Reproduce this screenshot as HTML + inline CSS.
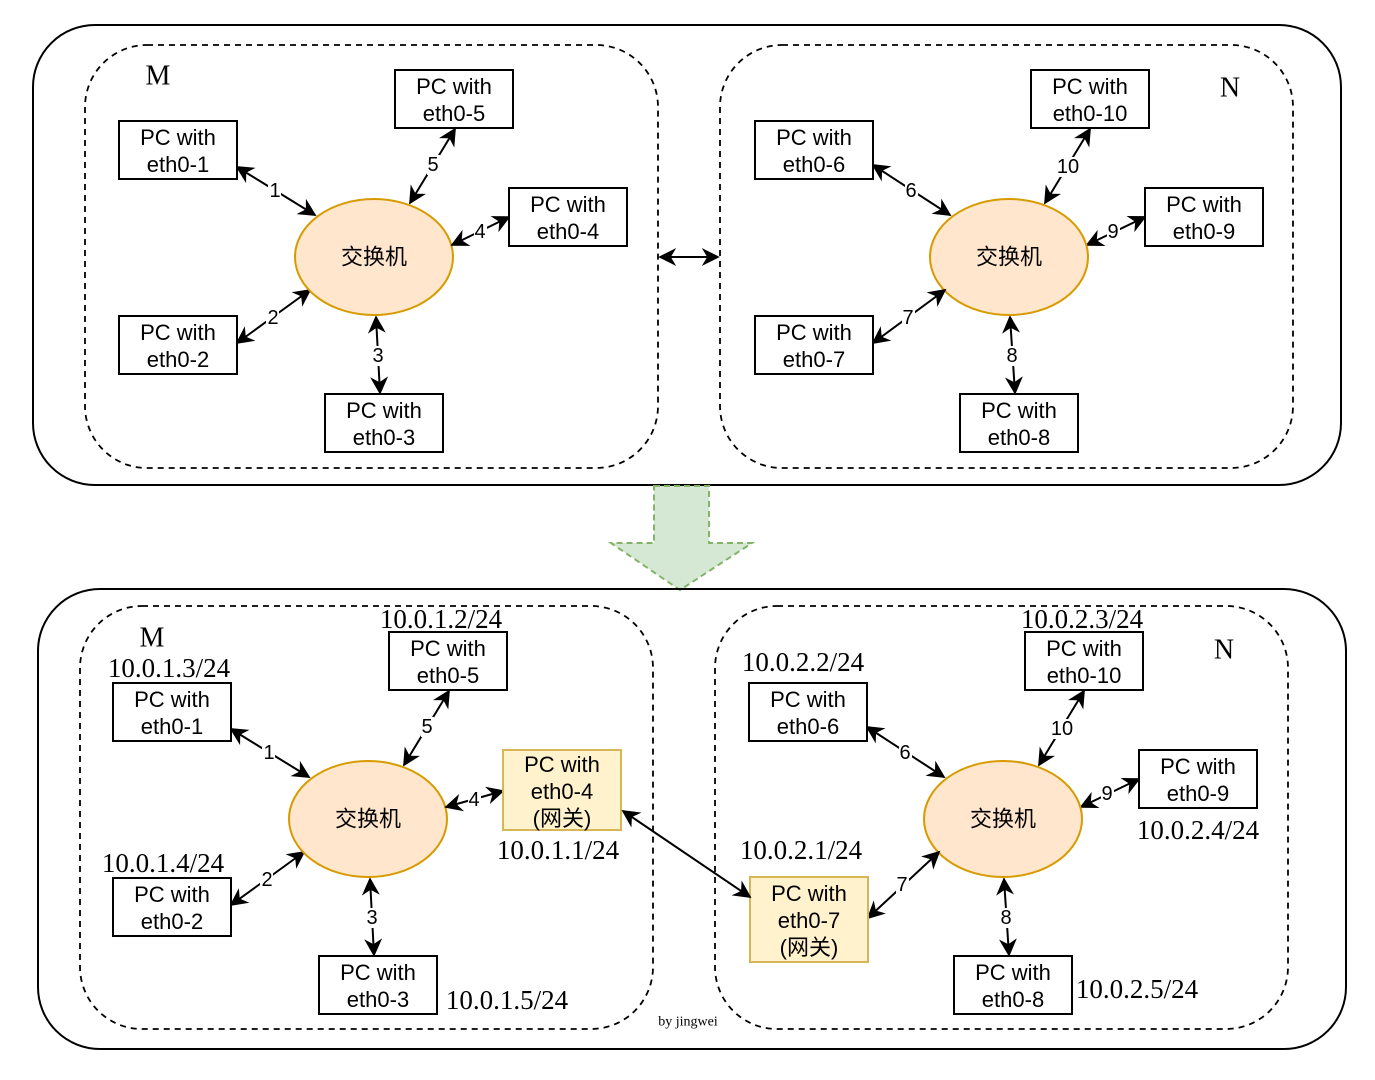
<!DOCTYPE html>
<html><head><meta charset="utf-8"><style>
html,body{margin:0;padding:0;background:#fff;}
svg{display:block;}
.box{fill:#fff;stroke:#000;stroke-width:2;}
.gw{fill:#fff2cc;stroke:#d6b656;stroke-width:2;}
.bt{font-family:"Liberation Sans","Noto Sans CJK SC",sans-serif;font-size:22px;fill:#000;text-anchor:middle;}
.sw{fill:#ffe6cc;stroke:#d79b00;stroke-width:2;}
.swt{font-family:"Liberation Sans","Noto Sans CJK SC",sans-serif;font-size:22px;text-anchor:middle;dominant-baseline:central;}
.ln{stroke:#000;stroke-width:2;fill:none;}
.lb{font-family:"Liberation Sans",sans-serif;font-size:20px;text-anchor:middle;dominant-baseline:central;}
.ip{font-family:"Liberation Serif",serif;font-size:27px;text-anchor:middle;dominant-baseline:central;}
.big{font-family:"Liberation Serif",serif;font-size:28px;text-anchor:middle;dominant-baseline:central;}
.dash{fill:none;stroke:#000;stroke-width:1.8;stroke-dasharray:6 5;}
.out{fill:none;stroke:#000;stroke-width:2;}
</style></head><body>
<svg width="1375" height="1080" viewBox="0 0 1375 1080" xmlns="http://www.w3.org/2000/svg">
<defs>
<marker id="ah2" viewBox="0 0 10 10" refX="9" refY="5" markerWidth="18" markerHeight="18" markerUnits="userSpaceOnUse" orient="auto-start-reverse">
<path d="M0,0 L10,5 L0,10 L3,5 z" fill="#000"/>
</marker>
</defs>
<style>.ln{marker-start:url(#ah2);marker-end:url(#ah2);}</style>

<!-- TOP -->
<rect class="out" x="33" y="25" width="1308" height="460" rx="62"/>
<rect class="dash" x="85" y="45" width="573" height="423" rx="62"/>
<rect class="dash" x="720" y="45" width="573" height="423" rx="62"/>
<line class="ln" x1="660" y1="257" x2="718" y2="257"/>

<g id="Mcommon">
<text class="big" x="158" y="76">M</text>
<line class="ln" x1="237" y1="167" x2="315" y2="215"/>
<line class="ln" x1="455" y1="129" x2="410" y2="203"/>
<line class="ln" x1="237" y1="343" x2="310" y2="290"/>
<line class="ln" x1="376" y1="317" x2="380" y2="393"/>
<ellipse class="sw" cx="374" cy="257" rx="79" ry="58"/>
<text class="swt" x="374" y="257">交换机</text>
<rect class="box" x="119" y="121" width="118" height="58"/><text class="bt" x="178" y="145">PC with</text><text class="bt" x="178" y="172">eth0-1</text>
<rect class="box" x="395" y="70" width="118" height="58"/><text class="bt" x="454" y="94">PC with</text><text class="bt" x="454" y="121">eth0-5</text>
<rect class="box" x="119" y="316" width="118" height="58"/><text class="bt" x="178" y="340">PC with</text><text class="bt" x="178" y="367">eth0-2</text>
<rect class="box" x="325" y="394" width="118" height="58"/><text class="bt" x="384" y="418">PC with</text><text class="bt" x="384" y="445">eth0-3</text>
<rect x="268" y="181" width="13" height="20" fill="#fff"/><text class="lb" x="275" y="191">1</text>
<rect x="427" y="155" width="13" height="20" fill="#fff"/><text class="lb" x="433" y="165">5</text>
<rect x="266" y="308" width="13" height="20" fill="#fff"/><text class="lb" x="273" y="318">2</text>
<rect x="371" y="346" width="13" height="20" fill="#fff"/><text class="lb" x="378" y="356">3</text>
</g>
<line class="ln" x1="509" y1="217" x2="452" y2="245"/>
<rect x="474" y="222" width="13" height="20" fill="#fff"/><text class="lb" x="480" y="232">4</text>
<rect class="box" x="509" y="188" width="118" height="58"/><text class="bt" x="568" y="212">PC with</text><text class="bt" x="568" y="239">eth0-4</text>

<g id="Ncommon">
<text class="big" x="1230" y="88">N</text>
<line class="ln" x1="873" y1="165" x2="950" y2="215"/>
<line class="ln" x1="1090" y1="129" x2="1045" y2="203"/>
<line class="ln" x1="1145" y1="217" x2="1087" y2="245"/>
<line class="ln" x1="1010" y1="317" x2="1015" y2="393"/>
<ellipse class="sw" cx="1009" cy="257" rx="79" ry="58"/>
<text class="swt" x="1009" y="257">交换机</text>
<rect class="box" x="755" y="121" width="118" height="58"/><text class="bt" x="814" y="145">PC with</text><text class="bt" x="814" y="172">eth0-6</text>
<rect class="box" x="1031" y="70" width="118" height="58"/><text class="bt" x="1090" y="94">PC with</text><text class="bt" x="1090" y="121">eth0-10</text>
<rect class="box" x="1145" y="188" width="118" height="58"/><text class="bt" x="1204" y="212">PC with</text><text class="bt" x="1204" y="239">eth0-9</text>
<rect class="box" x="960" y="394" width="118" height="58"/><text class="bt" x="1019" y="418">PC with</text><text class="bt" x="1019" y="445">eth0-8</text>
<rect x="905" y="181" width="13" height="20" fill="#fff"/><text class="lb" x="911" y="191">6</text>
<rect x="1057" y="157" width="22" height="20" fill="#fff"/><text class="lb" x="1068" y="167">10</text>
<rect x="1107" y="222" width="13" height="20" fill="#fff"/><text class="lb" x="1113" y="232">9</text>
<rect x="1005" y="346" width="13" height="20" fill="#fff"/><text class="lb" x="1012" y="356">8</text>
</g>
<line class="ln" x1="873" y1="343" x2="945" y2="290"/>
<rect x="902" y="308" width="13" height="20" fill="#fff"/><text class="lb" x="908" y="318">7</text>
<rect class="box" x="755" y="316" width="118" height="58"/><text class="bt" x="814" y="340">PC with</text><text class="bt" x="814" y="367">eth0-7</text>

<!-- ARROW -->
<path d="M654,486 L709,486 L709,543 L752,543 L680,590 L611,543 L654,543 Z" fill="#d5e8d4" stroke="#82b366" stroke-width="2" stroke-dasharray="6 4"/>

<!-- BOTTOM -->
<rect class="out" x="38" y="589" width="1308" height="460" rx="62"/>
<rect class="dash" x="80" y="606" width="573" height="423" rx="62"/>
<rect class="dash" x="715" y="606" width="573" height="423" rx="62"/>
<g transform="translate(-6,562)">
<use href="#Mcommon"/>
<use href="#Ncommon"/>
</g>
<line class="ln" x1="503" y1="791" x2="446" y2="807"/>
<rect x="468" y="790" width="13" height="20" fill="#fff"/><text class="lb" x="474" y="800">4</text>
<rect class="gw" x="503" y="750" width="118" height="80"/>
<text class="bt" x="562" y="772">PC with</text><text class="bt" x="562" y="799">eth0-4</text><text class="bt" x="562" y="826">(网关)</text>
<line class="ln" x1="868" y1="918" x2="939" y2="852"/>
<rect x="896" y="875" width="13" height="20" fill="#fff"/><text class="lb" x="902" y="885">7</text>
<rect class="gw" x="750" y="877" width="118" height="85"/>
<text class="bt" x="809" y="901">PC with</text><text class="bt" x="809" y="928">eth0-7</text><text class="bt" x="809" y="955">(网关)</text>
<line class="ln" x1="623" y1="811" x2="750" y2="897"/>

<text class="ip" x="169" y="668">10.0.1.3/24</text>
<text class="ip" x="441" y="619">10.0.1.2/24</text>
<text class="ip" x="163" y="863">10.0.1.4/24</text>
<text class="ip" x="558" y="850">10.0.1.1/24</text>
<text class="ip" x="507" y="1000">10.0.1.5/24</text>
<text class="ip" x="803" y="662">10.0.2.2/24</text>
<text class="ip" x="1082" y="619">10.0.2.3/24</text>
<text class="ip" x="1198" y="830">10.0.2.4/24</text>
<text class="ip" x="801" y="850">10.0.2.1/24</text>
<text class="ip" x="1137" y="989">10.0.2.5/24</text>
<text x="688" y="1022" font-family="Liberation Serif,serif" font-size="14" text-anchor="middle" dominant-baseline="central">by jingwei</text>
</svg>
</body></html>
